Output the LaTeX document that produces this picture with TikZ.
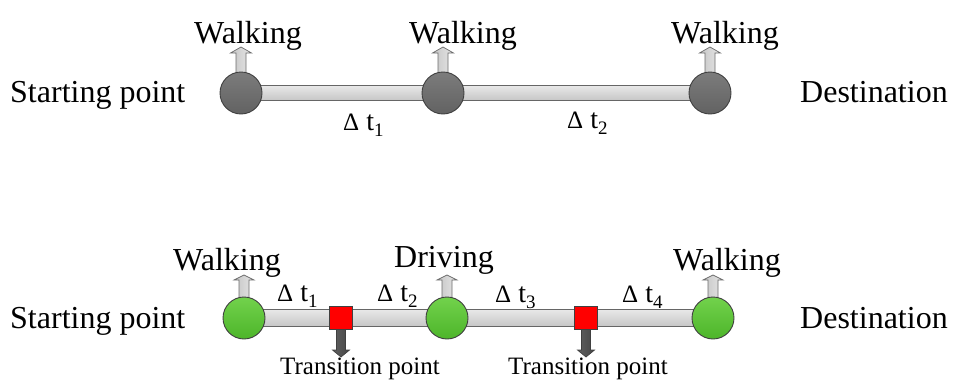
\documentclass[tikz,border=0pt]{standalone}
\usepackage{fontspec}
\setmainfont{Liberation Serif}
\usetikzlibrary{backgrounds}
\definecolor{greyfillA}{HTML}{7C7C7C}
\definecolor{greyfillB}{HTML}{626262}
\definecolor{greenA}{HTML}{72D24C}
\definecolor{greenB}{HTML}{4DB52A}
\definecolor{barA}{HTML}{E8E8E8}
\definecolor{barB}{HTML}{C6C6C6}
\definecolor{outl}{HTML}{404040}
\newcommand{\dlt}[1]{{\fontsize{25}{30}\selectfont Δ} t\raisebox{-0.22em}{\fontsize{19}{22}\selectfont #1}}
\begin{document}
\begin{tikzpicture}[x=1pt,y=-1pt,
  big/.style={font=\fontsize{32}{38}\selectfont, inner sep=0pt},
  small/.style={font=\fontsize{25}{30}\selectfont, inner sep=0pt, anchor=base},
  dlab/.style={font=\fontsize{28}{32}\selectfont, inner sep=0pt, anchor=base west},
  greystop/.style={circle, minimum size=42pt, inner sep=0pt, draw=outl, line width=0.9pt, top color=greyfillA, bottom color=greyfillB},
  greenstop/.style={circle, minimum size=42pt, inner sep=0pt, draw=outl, line width=0.9pt, top color=greenA, bottom color=greenB},
  transq/.style={rectangle, minimum size=23pt, inner sep=0pt, draw=outl, line width=0.9pt, fill=red},
  bar/.style={draw=gray!80!black, line width=0.8pt, top color=barA, bottom color=barB},
  uparr/.style={draw=gray!85!black, line width=0.7pt, left color=gray!45, right color=gray!20},
  downarr/.style={draw=outl, line width=0.7pt, left color=gray!75!black, right color=gray!55!black},
]
\useasboundingbox (0,0) rectangle (955,380);

% ---------- top row ----------
\node[greystop] (c1) at (241,93) {};
\node[greystop] (c2) at (443,93) {};
\node[greystop] (c3) at (710,93) {};

\begin{scope}[on background layer]
  \path[bar] ([yshift=7.5pt]c1.center) rectangle ([yshift=-7.5pt]c3.center);
  \foreach \c in {c1,c2,c3}{
    \path[uparr] (\c.center) +(-5,0) -- +(-5,-40) -- +(-10.5,-40) -- +(0,-46)
      -- +(10.5,-40) -- +(5,-40) -- +(5,0) -- cycle;
  }
\end{scope}

\node[big, anchor=base west] (sp1) at (10,102) {Starting point};
\node[big, anchor=base west] (de1) at (800,102) {Destination};
\node[big, anchor=base] (w1) at (248,43) {Walking};
\node[big, anchor=base] (w2) at (463,43) {Walking};
\node[big, anchor=base] (w3) at (725,43) {Walking};
\node[dlab] (dt1) at (343,130) {\dlt{1}};
\node[dlab] (dt2) at (567,128) {\dlt{2}};

% ---------- bottom row ----------
\node[greenstop] (g1) at (244,318) {};
\node[greenstop] (g2) at (447,318) {};
\node[greenstop] (g3) at (713,318) {};
\node[transq] (s1) at (341,318) {};
\node[transq] (s2) at (586,318) {};

\begin{scope}[on background layer]
  \path[bar] ([yshift=8.5pt]g1.center) rectangle ([yshift=-8.5pt]g3.center);
  \foreach \c in {g1,g2,g3}{
    \path[uparr] (\c.center) +(-5,0) -- +(-5,-38) -- +(-10,-38) -- +(0,-43)
      -- +(10,-38) -- +(5,-38) -- +(5,0) -- cycle;
  }
  \foreach \s in {s1,s2}{
    \path[downarr] (\s.center) +(-4.5,0) -- +(-4.5,32) -- +(-8.5,32) -- +(0,39)
      -- +(8.5,32) -- +(4.5,32) -- +(4.5,0) -- cycle;
  }
\end{scope}

\node[big, anchor=base west] (sp2) at (10,328) {Starting point};
\node[big, anchor=base west] (de2) at (800,328) {Destination};
\node[big, anchor=base] (w4) at (227,270) {Walking};
\node[big, anchor=base] (dr) at (444,267) {Driving};
\node[big, anchor=base] (w5) at (727,270) {Walking};
\node[dlab] (bt1) at (277,301) {\dlt{1}};
\node[dlab] (bt2) at (377,301) {\dlt{2}};
\node[dlab] (bt3) at (495,302) {\dlt{3}};
\node[dlab] (bt4) at (622,302) {\dlt{4}};
\node[small] (tp1) at (360,374) {Transition point};
\node[small] (tp2) at (588,374) {Transition point};
\end{tikzpicture}
\end{document}
